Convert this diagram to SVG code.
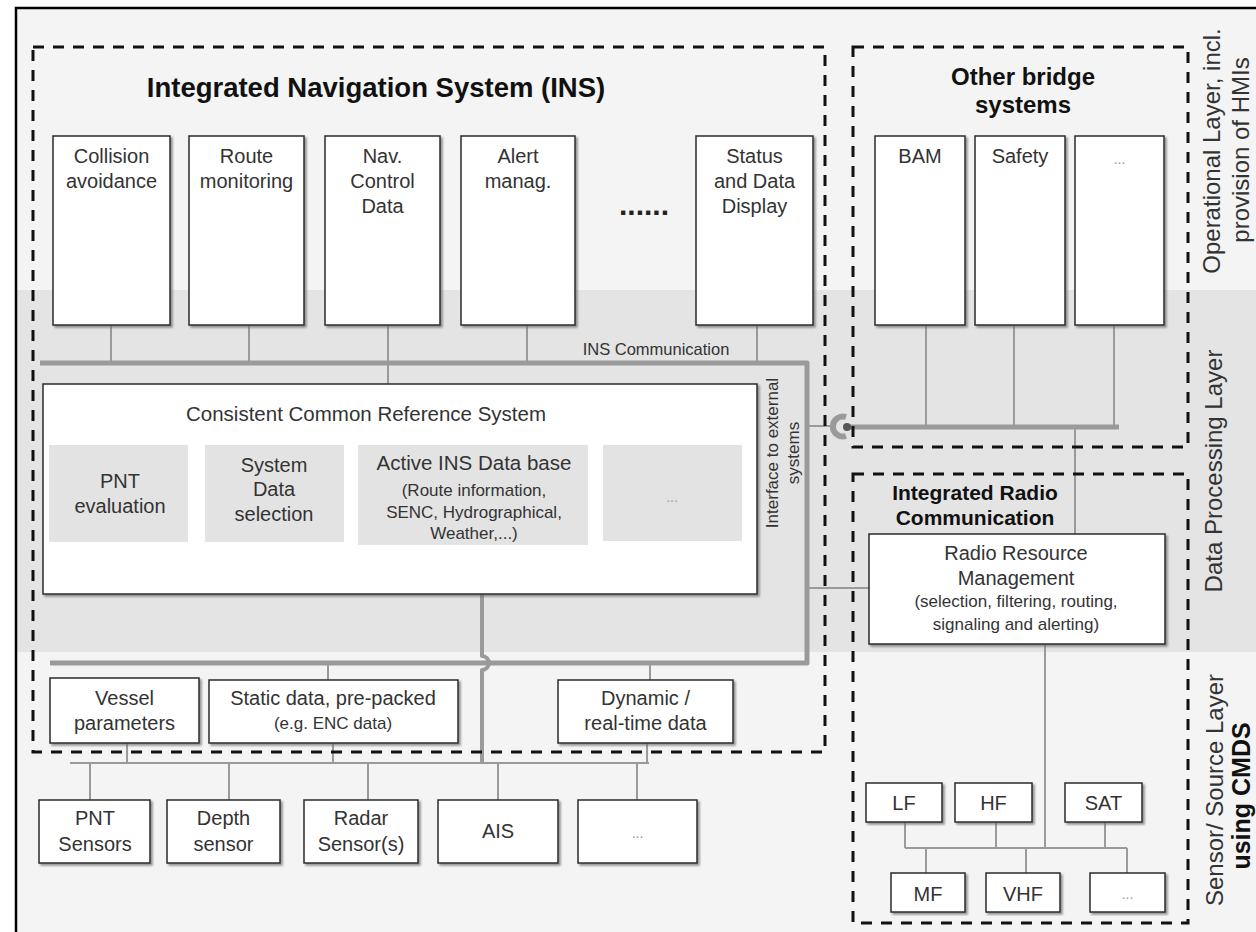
<svg xmlns="http://www.w3.org/2000/svg" width="1256" height="932" viewBox="0 0 1256 932">
  <defs>
    <filter id="shadow" x="-5%" y="-5%" width="115%" height="115%">
      <feDropShadow dx="2" dy="2" stdDeviation="0.8" flood-color="#666" flood-opacity="0.7"/>
    </filter>
  </defs>
  <style>
    .box{fill:#fff;stroke:#2a2a2a;stroke-width:1.5;filter:url(#shadow)}
    .sub{fill:#e3e3e3}
    .t{font-family:"Liberation Sans",Arial,sans-serif;font-size:20px;fill:#333;text-anchor:middle}
    .s{font-size:17px}
    .b{font-weight:bold;fill:#111}
    .dots{fill:#999;font-size:14px}
    .zone{fill:none;stroke:#111;stroke-width:3;stroke-dasharray:11 9}
    .thin{fill:none;stroke:#9a9a9a;stroke-width:2}
    .bus{fill:none;stroke:#9a9a9a;stroke-width:5;stroke-linejoin:round}
  </style>

  <!-- layer bands -->
  <g id="layers">
    <rect x="0" y="0" width="1256" height="932" fill="#fff"/>
    <rect x="16" y="8" width="1250" height="930" fill="#f4f4f4"/>
    <rect x="16" y="290" width="1250" height="362" fill="#e4e4e4"/>
    <path d="M16 940 V8 H1260" fill="none" stroke="#000" stroke-width="2.5"/>
    <text class="t" style="font-size:24px" transform="translate(1220,151) rotate(-90)">Operational Layer, incl.</text>
    <text class="t" style="font-size:24px" transform="translate(1249,150) rotate(-90)">provision of HMIs</text>
    <text class="t" style="font-size:24px" transform="translate(1222,471) rotate(-90)">Data Processing Layer</text>
    <text class="t" style="font-size:24px" transform="translate(1223,790) rotate(-90)">Sensor/ Source Layer</text>
    <text class="t b" style="font-size:25px" transform="translate(1250,796) rotate(-90)">using CMDS</text>
  </g>

  <!-- connectors -->
  <g id="connectors">
    <!-- INS communication bus -->
    <path class="bus" d="M40 363 H807 V663 H50"/>
    <path class="thin" d="M111 325 V363 M249 325 V363 M388 325 V384 M527 325 V363 M757 325 V363"/>
    <!-- CCRS to sources, jumping the lower bus -->
    <path class="bus" style="stroke-width:4" d="M482 594 V656 A7 7 0 0 1 482 670 V763"/>
    <path class="thin" d="M328 663 V680 M650 663 V680"/>
    <!-- source distribution line -->
    <path class="thin" d="M70 763 H649 M127 743 V763 M333 743 V763 M647 743 V763"/>
    <path class="thin" d="M90 763 V800 M229 763 V800 M368 763 V800 M498 763 V800 M637 763 V800"/>
    <!-- external interface -->
    <path class="thin" d="M807 426 H832"/>
    <path d="M846 417 A10 10 0 1 0 846 436" fill="none" stroke="#9a9a9a" stroke-width="6"/>
    <path class="bus" d="M847 427 H1119"/>
    <circle cx="847" cy="427" r="4" fill="#555"/>
    <path class="thin" d="M926 325 V427 M1014 325 V427 M1114 325 V427 M1075 427 V534"/>
    <path class="thin" d="M807 588 H869"/>
    <!-- radio sources -->
    <path class="thin" d="M1045 644 V848 M905 848 H1127 M905 822 V848 M996 822 V848 M1105 822 V848 M926 848 V873 M1026 848 V873 M1127 848 V873"/>
    <text class="t" style="font-size:16.5px" x="656" y="355">INS Communication</text>
    <text class="t" style="font-size:17px" transform="translate(778,453) rotate(-90)">Interface to  external</text>
    <text class="t" style="font-size:17px" transform="translate(799,453) rotate(-90)">systems</text>
  </g>

  <!-- system boundaries -->
  <g id="ins-zone">
    <rect class="zone" x="33" y="47" width="792" height="705"/>
    <text class="t b" style="font-size:27.5px" x="376" y="97">Integrated Navigation System (INS)</text>
  </g>
  <g id="bridge-zone">
    <rect class="zone" x="853" y="47" width="335" height="400"/>
    <text class="t b" style="font-size:24px" x="1023" y="85">Other bridge</text>
    <text class="t b" style="font-size:24px" x="1023" y="113">systems</text>
  </g>
  <g id="radio-zone">
    <rect class="zone" x="853" y="474" width="335" height="449"/>
    <text class="t b" style="font-size:21px" x="975" y="500">Integrated Radio</text>
    <text class="t b" style="font-size:21px" x="975" y="525">Communication</text>
  </g>

  <!-- INS applications -->
  <g id="collision">
    <rect class="box" x="53" y="136" width="117" height="189"/>
    <text class="t" x="111.5" y="163">Collision</text>
    <text class="t" x="111.5" y="188">avoidance</text>
  </g>
  <g id="route">
    <rect class="box" x="189" y="136" width="115" height="189"/>
    <text class="t" x="246.5" y="163">Route</text>
    <text class="t" x="246.5" y="188">monitoring</text>
  </g>
  <g id="navcontrol">
    <rect class="box" x="325" y="136" width="115" height="189"/>
    <text class="t" x="382.5" y="163">Nav.</text>
    <text class="t" x="382.5" y="188">Control</text>
    <text class="t" x="382.5" y="213">Data</text>
  </g>
  <g id="alert">
    <rect class="box" x="461" y="136" width="114" height="189"/>
    <text class="t" x="518" y="163">Alert</text>
    <text class="t" x="518" y="188">manag.</text>
  </g>
  <g id="more-apps">
    <text class="t b" style="font-size:30px;fill:#222" x="644" y="215">......</text>
  </g>
  <g id="status">
    <rect class="box" x="696" y="136" width="117" height="189"/>
    <text class="t" x="754.5" y="163">Status</text>
    <text class="t" x="754.5" y="188">and Data</text>
    <text class="t" x="754.5" y="213">Display</text>
  </g>

  <!-- other bridge systems -->
  <g id="bam">
    <rect class="box" x="875" y="136" width="90" height="189"/>
    <text class="t" x="920" y="163">BAM</text>
  </g>
  <g id="safety">
    <rect class="box" x="975" y="136" width="90" height="189"/>
    <text class="t" x="1020" y="163">Safety</text>
  </g>
  <g id="bridge-more">
    <rect class="box" x="1075" y="136" width="89" height="189"/>
    <text class="t dots" x="1119.5" y="164">...</text>
  </g>

  <!-- common reference system -->
  <g id="ccrs">
    <rect class="box" x="43" y="384" width="714" height="210"/>
    <text class="t" style="font-size:20.5px" x="366" y="421">Consistent Common Reference System</text>
    <rect class="sub" x="49" y="445" width="139" height="97"/>
    <text class="t" x="120" y="488">PNT</text>
    <text class="t" x="120" y="513">evaluation</text>
    <rect class="sub" x="205" y="445" width="139" height="97"/>
    <text class="t" x="274" y="472">System</text>
    <text class="t" x="274" y="496">Data</text>
    <text class="t" x="274" y="521">selection</text>
    <rect class="sub" x="358" y="445" width="230" height="100"/>
    <text class="t" style="font-size:20.5px" x="474" y="470">Active INS Data base</text>
    <text class="t s" x="474" y="496">(Route information,</text>
    <text class="t s" x="474" y="518">SENC, Hydrographical,</text>
    <text class="t s" x="474" y="539">Weather,...)</text>
    <rect class="sub" x="603" y="445" width="139" height="96"/>
    <text class="t dots" x="672" y="502">...</text>
  </g>

  <!-- INS data sources -->
  <g id="vessel">
    <rect class="box" x="50" y="678" width="149" height="65"/>
    <text class="t" x="124.5" y="705">Vessel</text>
    <text class="t" x="124.5" y="730">parameters</text>
  </g>
  <g id="static">
    <rect class="box" x="209" y="680" width="249" height="63"/>
    <text class="t" x="333" y="705">Static data, pre-packed</text>
    <text class="t s" x="333" y="729">(e.g.  ENC data)</text>
  </g>
  <g id="dynamic">
    <rect class="box" x="558" y="680" width="175" height="63"/>
    <text class="t" x="645.5" y="705">Dynamic /</text>
    <text class="t" x="645.5" y="730">real-time data</text>
  </g>

  <!-- sensors -->
  <g id="pnt">
    <rect class="box" x="39" y="800" width="111" height="63"/>
    <text class="t" x="95" y="825">PNT</text>
    <text class="t" x="95" y="851">Sensors</text>
  </g>
  <g id="depth">
    <rect class="box" x="167" y="800" width="113" height="63"/>
    <text class="t" x="223.5" y="825">Depth</text>
    <text class="t" x="223.5" y="851">sensor</text>
  </g>
  <g id="radar">
    <rect class="box" x="304" y="800" width="114" height="63"/>
    <text class="t" x="361" y="825">Radar</text>
    <text class="t" x="361" y="851">Sensor(s)</text>
  </g>
  <g id="ais">
    <rect class="box" x="438" y="800" width="120" height="63"/>
    <text class="t" x="498" y="838">AIS</text>
  </g>
  <g id="sensor-more">
    <rect class="box" x="578" y="800" width="119" height="63"/>
    <text class="t dots" x="637.5" y="838">...</text>
  </g>

  <!-- radio communication -->
  <g id="rrm">
    <rect class="box" x="869" y="534" width="296" height="110"/>
    <text class="t" x="1016" y="560">Radio Resource</text>
    <text class="t" x="1016" y="585">Management</text>
    <text class="t s" x="1016" y="607">(selection, filtering, routing,</text>
    <text class="t s" x="1016" y="630">signaling and alerting)</text>
  </g>
  <g id="lf">
    <rect class="box" x="866" y="783" width="76" height="39"/>
    <text class="t" x="904" y="810">LF</text>
  </g>
  <g id="hf">
    <rect class="box" x="955" y="783" width="77" height="39"/>
    <text class="t" x="993.5" y="810">HF</text>
  </g>
  <g id="sat">
    <rect class="box" x="1065" y="783" width="77" height="39"/>
    <text class="t" x="1103.5" y="810">SAT</text>
  </g>
  <g id="mf">
    <rect class="box" x="891" y="873" width="74" height="39"/>
    <text class="t" x="928" y="901">MF</text>
  </g>
  <g id="vhf">
    <rect class="box" x="986" y="873" width="74" height="39"/>
    <text class="t" x="1023" y="901">VHF</text>
  </g>
  <g id="radio-more">
    <rect class="box" x="1090" y="873" width="75" height="39"/>
    <text class="t dots" x="1127.5" y="899">...</text>
  </g>
</svg>
